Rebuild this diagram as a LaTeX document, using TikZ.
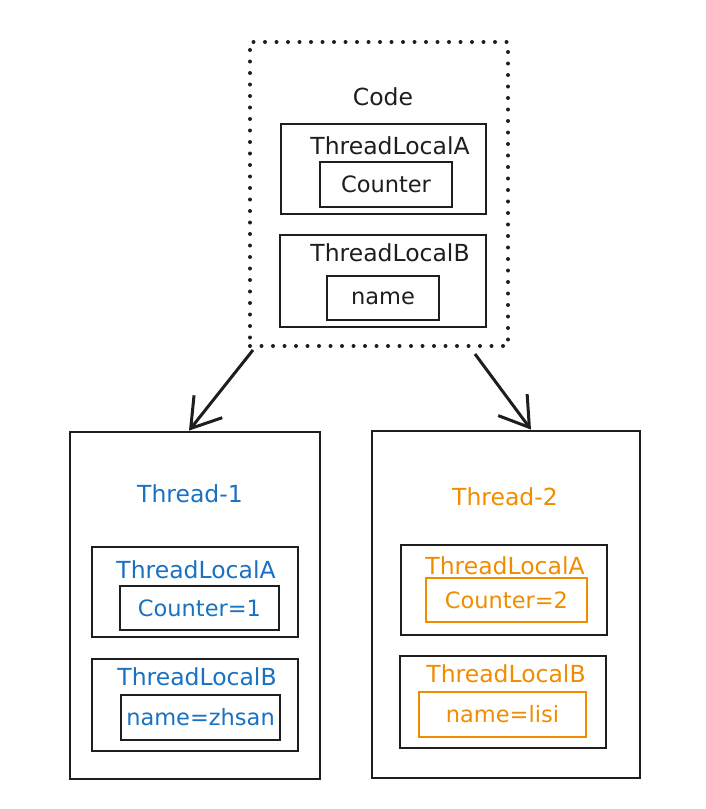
\documentclass[tikz,border=0pt]{standalone}
\usepackage{fontspec}
\setmainfont{DejaVu Sans}
\usetikzlibrary{arrows.meta}
\definecolor{ink}{HTML}{1E1E1E}
\definecolor{tblue}{HTML}{1971C2}
\definecolor{torange}{HTML}{F08C00}
\begin{document}
\begin{tikzpicture}[x=1pt,y=-1pt,
  box/.style={draw=ink, line width=2.8pt, rectangle, inner sep=0pt, font=\fontsize{22.5}{25}\selectfont},
  dotbox/.style={draw=ink, line width=4pt, rectangle, inner sep=0pt, line cap=round, dash pattern=on 0pt off 11.5pt},
  lbl/.style={font=\fontsize{23.5}{26}\selectfont, inner sep=0pt},
  conn/.style={draw=ink, line width=3pt, -{Straight Barb[length=28pt,width=36pt,line width=3pt]}}
]
\useasboundingbox (0,0) rectangle (706,809);
% Code block
\node[dotbox, minimum width=258pt, minimum height=304pt] (code) at (379,194) {};
\node[lbl, text=ink] (codet) at (383,97) {Code};
\node[box, minimum width=205pt, minimum height=90pt] (ca) at (383.5,169) {};
\node[lbl, text=ink] (cat) at (390,146) {ThreadLocalA};
\node[box, minimum width=132pt, minimum height=45pt, text=ink] (cc) at (386,184.5) {Counter};
\node[box, minimum width=206pt, minimum height=92pt] (cb) at (383,281) {};
\node[lbl, text=ink] (cbt) at (390,253) {ThreadLocalB};
\node[box, minimum width=112pt, minimum height=44pt, text=ink] (cn) at (383,298) {name};
% Thread-1
\node[box, minimum width=250pt, minimum height=347pt] (t1) at (195,605.5) {};
\node[lbl, text=tblue] (t1t) at (190,494) {Thread-1};
\node[box, minimum width=206pt, minimum height=90pt] (t1a) at (195,592) {};
\node[lbl, text=tblue] (t1at) at (196,570) {ThreadLocalA};
\node[box, minimum width=159pt, minimum height=44pt, text=tblue] (t1c) at (199.5,608) {Counter=1};
\node[box, minimum width=206pt, minimum height=92pt] (t1b) at (195,705) {};
\node[lbl, text=tblue] (t1bt) at (197,677) {ThreadLocalB};
\node[box, minimum width=159pt, minimum height=45pt, text=tblue] (t1n) at (200.5,717.5) {name=zhsan};
% Thread-2
\node[box, minimum width=268pt, minimum height=347pt] (t2) at (506,604.5) {};
\node[lbl, text=torange] (t2t) at (505,497) {Thread-2};
\node[box, minimum width=206pt, minimum height=90pt] (t2a) at (504,590) {};
\node[lbl, text=torange] (t2at) at (505,566) {ThreadLocalA};
\node[box, draw=torange, minimum width=161pt, minimum height=44pt, text=torange] (t2c) at (506.5,600) {Counter=2};
\node[box, minimum width=206pt, minimum height=92pt] (t2b) at (503,702) {};
\node[lbl, text=torange] (t2bt) at (506,674) {ThreadLocalB};
\node[box, draw=torange, minimum width=167pt, minimum height=45pt, text=torange] (t2n) at (502.5,714.5) {name=lisi};
% Connectors
\draw[conn] ([xshift=5pt,yshift=-2pt]code.south west) -- ([xshift=-6pt]t1.north);
\draw[conn] ([xshift=-35pt,yshift=-6pt]code.south east) -- ([xshift=25pt]t2.north);
\end{tikzpicture}
\end{document}
